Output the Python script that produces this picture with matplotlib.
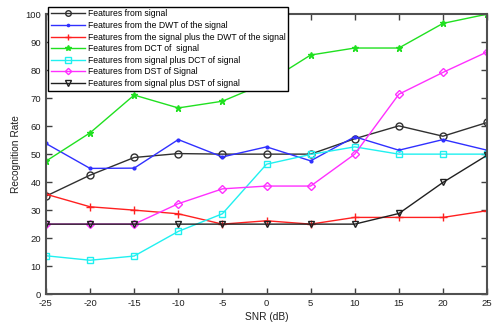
import numpy as np
import matplotlib.pyplot as plt

plt.rcParams["font.family"] = ["Liberation Sans", "DejaVu Sans"]
plt.rcParams["axes.unicode_minus"] = False

# -----------------------------
# Data
# -----------------------------
snr = [-25, -20, -15, -10, -5, 0, 5, 10, 15, 20, 25]

sig = [35.0, 42.5, 48.8, 50.2, 50.0, 50.0, 50.0, 55.5, 60.1, 56.4, 61.3]
dwt = [53.8, 44.9, 45.0, 55.2, 49.0, 52.6, 47.6, 56.2, 51.4, 55.2, 51.4]
sig_dwt = [35.7, 31.2, 30.0, 28.7, 25.0, 26.2, 25.0, 27.4, 27.4, 27.4, 29.8]
dct = [47.5, 57.6, 71.1, 66.5, 68.9, 75.5, 85.4, 87.9, 87.9, 96.7, 100.0]
sig_dct = [13.7, 12.1, 13.6, 22.4, 28.7, 46.4, 49.9, 52.6, 50.0, 50.0, 50.0]
dst = [25.0, 25.0, 25.0, 32.3, 37.6, 38.6, 38.6, 50.0, 71.4, 79.2, 86.5]
sig_dst = [25.0, 25.0, 25.0, 25.0, 25.0, 25.0, 25.0, 25.0, 28.8, 39.9, 49.6]

labels = [
    "Features from signal",
    "Features from the DWT of the signal",
    "Features from the signal plus the DWT of the signal",
    "Features from DCT of  signal",
    "Features from signal plus DCT of signal",
    "Features from DST of Signal",
    "Features from signal plus DST of signal",
]

series = [sig, dwt, sig_dwt, dct, sig_dct, dst, sig_dst]
styles = [
    ("#303030", "o", 5, "none"),
    ("#3030ff", ".", 4, None),
    ("#ff2020", "+", 6, None),
    ("#20e020", "*", 5, None),
    ("#20f0f0", "s", 5, "none"),
    ("#ff30ff", "D", 4, "none"),
    ("#202020", "v", 5, "none"),
]

fig = plt.figure(figsize=(4.94, 3.29), dpi=100)
ax = fig.add_axes([0.093, 0.106, 0.893, 0.851])

for vals, lab, (c, m, ms, mfc) in zip(series, labels, styles):
    kw = dict(color=c, marker=m, markersize=ms, linewidth=1.0, label=lab,
              markeredgewidth=1.0)
    if mfc is not None:
        kw["markerfacecolor"] = mfc
    ax.plot(snr, vals, **kw)

ax.set_xlim(-25, 25)
ax.set_ylim(0, 100)
ax.set_xticks(np.arange(-25, 26, 5))
ax.set_yticks(np.arange(0, 101, 10))
ax.tick_params(direction="in", top=True, right=True, labelsize=6.8, length=4,
               width=1.0, color="#404040", labelcolor="#202020")
for sp in ax.spines.values():
    sp.set_linewidth(1.5)
    sp.set_color("#505050")

ax.set_xlabel("SNR (dB)", fontsize=7.3, color="#202020", labelpad=3)
ax.set_ylabel("Recognition Rate", fontsize=7.3, color="#202020", labelpad=3)

leg = ax.legend(loc="upper left", bbox_to_anchor=(0.097, 0.979),
                bbox_transform=fig.transFigure, fontsize=6.2,
                handlelength=4.0, labelspacing=0.3, borderpad=0.3,
                handletextpad=0.3, borderaxespad=0, fancybox=False,
                framealpha=1.0, edgecolor="black", markerscale=0.8)
leg.get_frame().set_linewidth(1.0)

fig.savefig("out.png", dpi=100)
